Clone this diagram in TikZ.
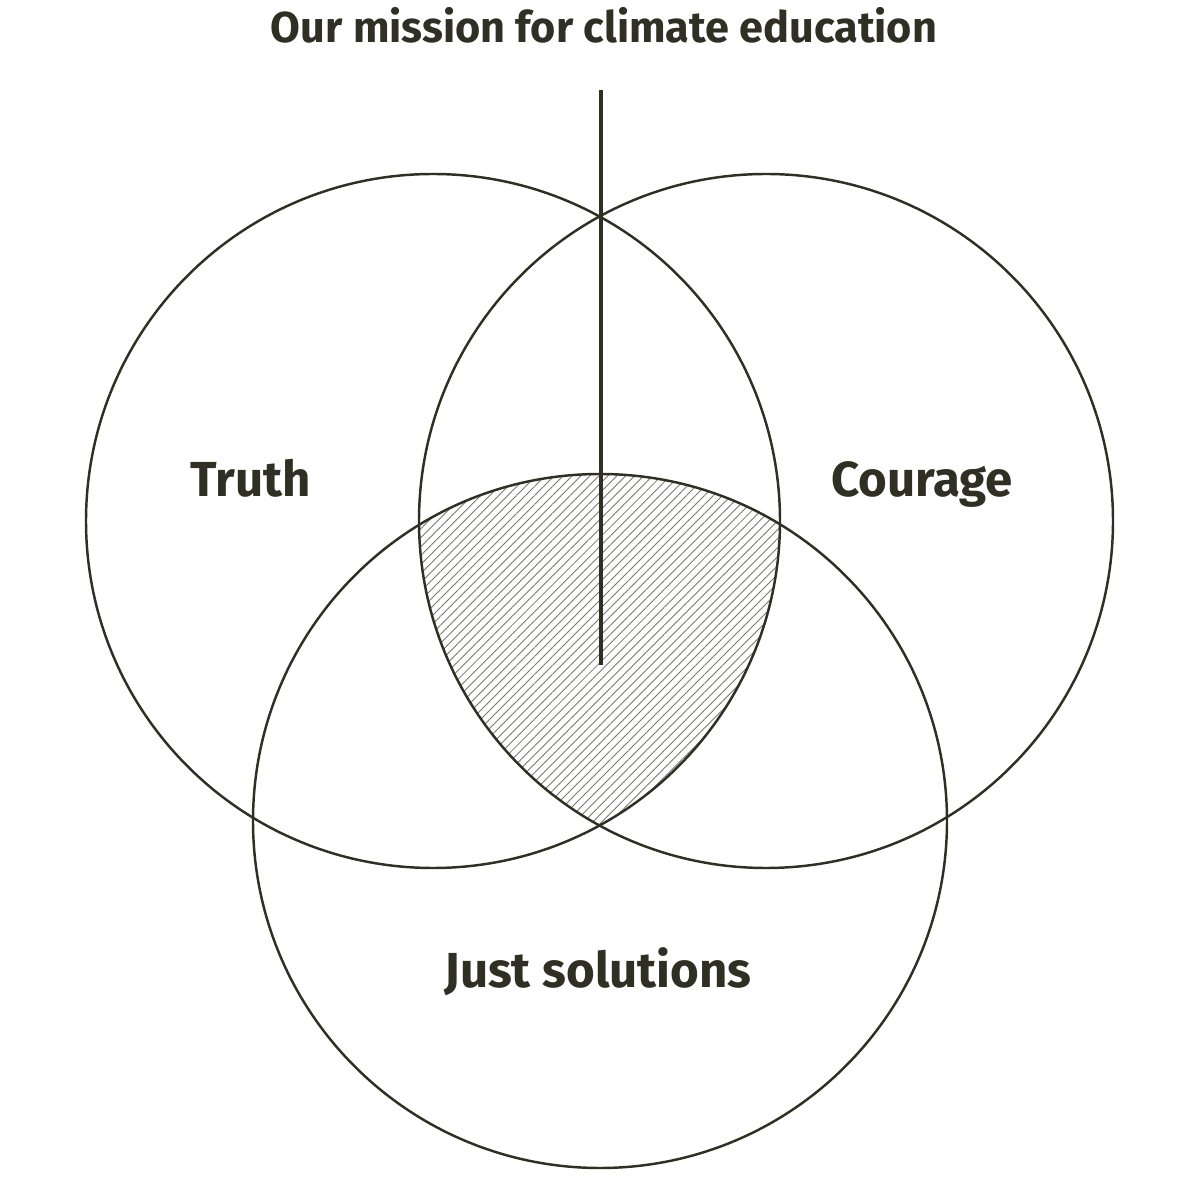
\documentclass[tikz,border=0pt]{standalone}
\usepackage{fontspec}
\setmainfont{Fira Sans}
\usepackage{xcolor}
\definecolor{ink}{RGB}{47,47,36}
\usetikzlibrary{patterns.meta,positioning}

\begin{document}
\begin{tikzpicture}[
  ring/.style={
    circle, draw=ink, line width=0.7pt, minimum size=6.94cm,
    inner sep=0pt
  },
  vlabel/.style={font=\fontsize{14}{16}\selectfont\bfseries,text=ink,anchor=base},
]
\useasboundingbox (0,0) rectangle (12,12);
% the three sets
\coordinate (cT) at (4.33,6.79);
\coordinate (cC) at (7.66,6.79);
\coordinate (cJ) at (6.00,3.79);
% hatched common part
\begin{scope}
  \clip (cT) circle (3.47);
  \clip (cC) circle (3.47);
  \fill[pattern={Lines[angle=45,distance=1.8pt,line width=0.25pt]},
    pattern color=ink!65] (cJ) circle (3.47);
\end{scope}
\node[ring] (truth) at (cT) {};
\node[ring] (courage) at (cC) {};
\node[ring] (just) at (cJ) {};
% labels
\node[vlabel] (ltruth) at (2.51,7.03) {Truth};
\node[vlabel] (lcourage) at (9.22,7.03) {Courage};
\node[vlabel] (ljust) at (5.98,2.12) {Just solutions};
\node[font=\fontsize{12.3}{15}\selectfont\bfseries,text=ink,anchor=base] (title)
  at (6.04,11.57) {Our mission for climate education};
% mission line
\coordinate (top) at (6.01,11.10);
\coordinate (tip) at (6.01,5.35);
\draw[ink,line width=1pt] (top) -- (tip);
\end{tikzpicture}
\end{document}
